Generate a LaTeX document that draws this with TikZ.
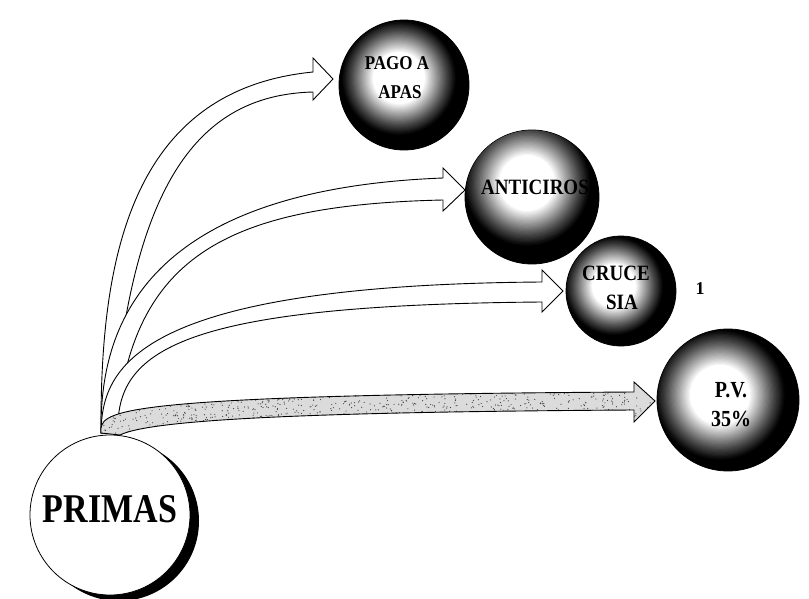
\documentclass[tikz,border=0pt]{standalone}
\usepackage{fontspec}
\setmainfont{Liberation Serif}
\newcommand\pvpath{(101,433) -- (101,428) .. controls (104,410) and (130,395) .. (634,392) -- (634,382) -- (655,401) -- (634,422) -- (634,410) .. controls (300,412) and (150,420) .. (120,435) -- cycle}
% #1 sphere node, #2 sphere radius, #3 highlight centre, #4 white core radius, #5 outer radius
\newcommand\spherehl[5]{%
  \begin{scope}
    \clip (#1) circle (#2);
    \foreach \k in {0,...,30} {%
      \pgfmathsetmacro\rr{#5-(#5-#4)*\k/30}%
      \pgfmathtruncatemacro\cc{100*(\k/30)^1.1}%
      \fill[white!\cc!black] #3 circle (\rr pt);}
  \end{scope}}
\begin{document}
\begin{tikzpicture}[x=1pt,y=-1pt,
  blockarrow/.style={draw=black,line width=0.9pt,fill=white,line join=miter},
  sphere/.style={circle,draw=black,line width=0.8pt,fill=black,inner sep=0pt},
  sphtext/.style={font=\bfseries\fontsize{17}{17}\selectfont,text=black,inner sep=0pt},
  bigtext/.style={font=\bfseries\fontsize{19}{19}\selectfont,text=black,inner sep=0pt}]
\useasboundingbox (0,0) rectangle (809,599);
% PRIMAS circle with shadow
\fill[black] (119,521) circle (80pt);
\node[circle,draw=black,line width=0.8pt,fill=white,minimum size=160pt,inner sep=0pt] (primas) at (110,515) {};
\node[inner sep=0pt] (primasT) at (110,509) {\scalebox{1}[1.2]{\bfseries\fontsize{34}{34}\selectfont PRIMAS}};
\coordinate (base) at (101,433);
% arrow 1 to PAGO A APAS
\draw[blockarrow] (base) .. controls (100,260) and (130,90) .. (313,72) -- (313,58) -- (333,79) -- (313,100) -- (313,92) .. controls (200,95) and (130,180) .. (112,433) -- cycle;
% arrow 2 to ANTICIROS
\draw[blockarrow] (base) .. controls (100,340) and (130,190) .. (443,178) -- (443,168) -- (465,190) -- (443,211) -- (443,200) .. controls (220,205) and (130,260) .. (116,433) -- cycle;
% arrow 3 to CRUCE SIA
\draw[blockarrow] (base) .. controls (102,370) and (130,285) .. (542,282) -- (542,270) -- (563,291) -- (542,312) -- (542,302) .. controls (180,305) and (115,350) .. (118,433) -- cycle;
% arrow 4 to P.V. (stippled)
\begin{scope}
\clip \pvpath;
\fill[black!14] (90,370) rectangle (670,440);
\pgfmathsetseed{7}
\foreach \i in {1,...,1500} {\fill[black!75] ({100+556*rnd},{378+60*rnd}) circle (0.6pt);}
\end{scope}
\draw[blockarrow,fill=none] \pvpath;
% spheres
\node[sphere,minimum size=130pt] (pago) at (404,85) {};
\node[sphere,minimum size=134pt] (anti) at (532,197) {};
\node[sphere,minimum size=110pt] (cruce) at (621,291) {};
\node[sphere,minimum size=142pt] (pv) at (728,400) {};
% highlights
\spherehl{pago}{64.5pt}{(399,78)}{26}{58}
\spherehl{anti}{66.5pt}{(527,183)}{28}{64}
\spherehl{cruce}{54.5pt}{(614,286)}{22}{50}
\spherehl{pv}{70.5pt}{(720,395)}{30}{66}
% sphere labels
\node[sphtext] (pagoT1) at (397,63) {\scalebox{1}[1.15]{PAGO A}};
\node[sphtext] (pagoT2) at (400,92) {\scalebox{1}[1.15]{APAS}};
\node[bigtext] (antiT) at (535,187) {\scalebox{1}[1.15]{ANTICIROS}};
\node[bigtext] (cruceT1) at (616,273) {\scalebox{1}[1.15]{CRUCE}};
\node[bigtext] (cruceT2) at (622,302) {\scalebox{1}[1.15]{SIA}};
\node[bigtext,font=\bfseries\fontsize{20}{20}\selectfont] (pvT1) at (731,390) {\scalebox{1}[1.15]{P.V.}};
\node[bigtext,font=\bfseries\fontsize{20}{20}\selectfont] (pvT2) at (731,419) {\scalebox{1}[1.15]{35\%}};
\node[bigtext,font=\bfseries\fontsize{18}{18}\selectfont] (one) at (700,289) {1};
\end{tikzpicture}
\end{document}
